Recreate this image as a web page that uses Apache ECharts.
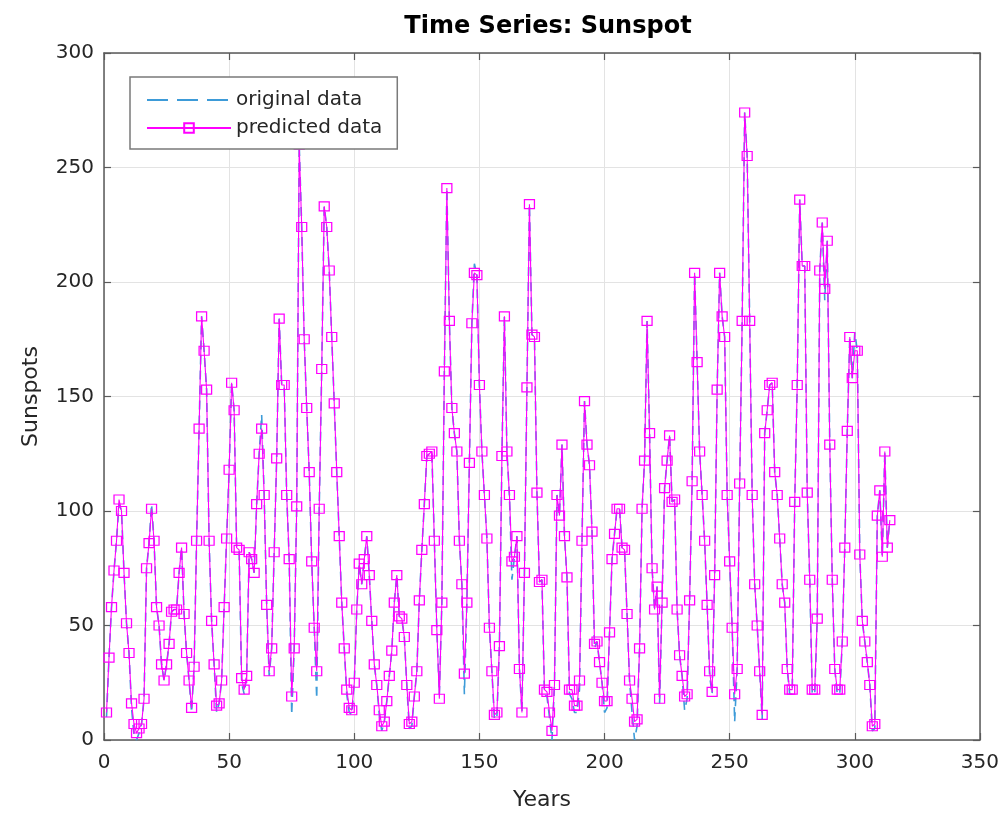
<!DOCTYPE html>
<html>
<head>
<meta charset="utf-8">
<script src="https://cdn.jsdelivr.net/npm/echarts@6/dist/echarts.min.js"></script>
<style>
html,body{margin:0;padding:0;background:#fff;}
#chart{width:1002px;height:818px;}
</style>
</head>
<body>
<div id="chart"></div>
<script>
// Predicted values (magenta, square markers), one per year index starting at 1
const predicted = [
12,36,58,74,87,105,100,73,51,38,16,7,3,5,7,18,75,86,101,87,
58,50,33,26,33,42,56,57,57,73,84,55,38,26,14,32,87,136,185,170,
153,87,52,33,15,16,26,58,88,118,156,144,84,83,27,22,28,82,79,73,
103,125,136,107,59,30,40,82,123,184,155,155,107,79,19,40,102,260,224,175,
145,117,78,49,30,101,162,233,224,205,176,147,117,89,60,40,22,14,13,25,
57,77,68,79,89,72,52,33,24,13,6,8,17,28,39,60,72,54,53,45,
24,7,8,19,30,61,83,103,124,125,126,87,48,18,60,161,241,183,145,134,
126,87,68,29,60,121,182,204,203,155,126,107,88,49,30,11,12,41,124,185,
126,107,78,80,89,31,12,73,154,234,177,176,108,69,70,22,21,12,4,24,
107,98,129,89,71,22,22,15,15,26,87,148,129,120,91,42,43,34,25,17,
17,47,79,90,101,101,84,83,55,26,18,8,9,40,101,122,183,134,75,57,
67,18,60,110,122,133,104,105,57,37,28,19,20,61,113,204,165,126,107,87,
59,30,21,72,153,204,185,176,107,78,49,20,31,112,183,274,255,183,107,68,
50,30,11,134,144,155,156,117,107,88,68,60,31,22,22,104,155,236,207,207,
108,70,22,22,53,205,226,197,218,129,70,31,22,22,43,84,135,176,158,170,
170,81,52,43,34,24,6,7,98,109,80,126,84,96
];
// Original values (blue dashed); mostly hidden under the predicted line
const original = [
10,36,58,74,87,103,100,73,51,38,14,2,0,3,7,18,75,86,103,87,
58,50,33,26,33,42,56,57,57,73,84,55,38,26,12,32,87,136,185,170,
153,87,52,33,12,16,26,58,88,118,156,144,84,83,25,20,28,82,79,73,
103,125,142,107,59,28,40,82,123,184,155,155,107,79,11,40,102,260,224,175,
145,117,78,49,18,101,162,233,224,205,176,147,117,89,60,40,20,12,11,25,
57,77,68,79,89,72,52,33,24,11,4,8,17,28,39,60,72,54,53,45,
24,5,6,19,30,61,83,103,124,125,126,87,48,20,60,161,241,183,145,134,
126,87,68,20,60,121,182,208,203,155,126,107,88,49,30,9,10,41,124,185,
126,107,70,80,89,31,12,73,154,234,177,176,108,69,70,20,19,10,0,24,
107,98,129,89,71,20,18,12,12,22,87,148,129,120,91,40,43,34,25,12,
14,47,79,90,101,101,84,83,55,26,12,0,6,40,101,122,183,134,75,57,
67,16,60,110,122,133,104,105,57,37,28,13,18,61,113,204,165,126,107,87,
59,28,20,72,153,204,185,176,107,78,49,8,31,112,183,274,255,183,107,68,
50,30,9,134,144,155,156,117,107,88,68,60,31,20,20,104,155,236,207,207,
108,70,20,20,53,205,226,192,218,129,70,31,20,20,43,84,135,176,158,178,
170,81,52,43,34,24,4,5,98,109,80,126,84,96
];
const xTicks = [0,50,100,150,200,250,300,350];
const yTicks = [0,50,100,150,200,250,300];

const toPairs = arr => arr.map((v, i) => [i + 1, v]);

const axisColor = '#5a5a5a';
const labelColor = '#262626';
const font = 'DejaVu Sans, Liberation Sans, Arial, sans-serif';

const tickStyle = {show: true, inside: true, length: 7, lineStyle: {color: axisColor, width: 1.2}};
const lineStyleAxis = {show: true, onZero: false, lineStyle: {color: axisColor, width: 1.5}};

const chart = echarts.init(document.getElementById('chart'), null, {renderer: 'canvas'});
chart.setOption({
  backgroundColor: '#ffffff',
  animation: false,
  textStyle: {fontFamily: font},
  title: {
    text: 'Time Series: Sunspot',
    left: 543, top: 10, textAlign: 'center',
    textStyle: {fontSize: 24, fontWeight: 'bold', color: '#000', fontFamily: font}
  },
  legend: {
    left: 130, top: 77,
    orient: 'vertical',
    backgroundColor: '#ffffff',
    borderColor: '#7a7a7a', borderWidth: 1.5,
    padding: [13, 15, 11, 16],
    itemWidth: 84, itemHeight: 12, itemGap: 8,
    textStyle: {fontSize: 20, color: labelColor, fontFamily: font},
    data: [
      {name: 'original data', itemStyle: {opacity: 0}, lineStyle: {type: [21, 9], width: 2}},
      {name: 'predicted data'}
    ]
  },
  grid: {left: 104, top: 53, width: 879, height: 687, show: false},
  xAxis: [{
    type: 'value', min: 0, max: 350, interval: 50,
    name: 'Years', nameLocation: 'middle', nameGap: 49,
    nameTextStyle: {fontSize: 22, color: labelColor, fontFamily: font},
    axisLine: lineStyleAxis,
    axisTick: tickStyle,
    axisLabel: {fontSize: 20, color: labelColor, margin: 13, fontFamily: font},
    splitLine: {show: true, lineStyle: {color: '#e3e3e3', width: 1}}
  }, {
    type: 'value', min: 0, max: 350, interval: 50, position: 'top',
    axisLine: lineStyleAxis,
    axisTick: tickStyle,
    axisLabel: {show: false}, splitLine: {show: false}
  }],
  yAxis: [{
    type: 'value', min: 0, max: 300, interval: 50,
    name: 'Sunspots', nameLocation: 'middle', nameGap: 62,
    nameTextStyle: {fontSize: 22, color: labelColor, fontFamily: font},
    axisLine: lineStyleAxis,
    axisTick: tickStyle,
    axisLabel: {fontSize: 20, color: labelColor, margin: 10, fontFamily: font},
    splitLine: {show: true, lineStyle: {color: '#e3e3e3', width: 1}}
  }, {
    type: 'value', min: 0, max: 300, interval: 50, position: 'right',
    axisLine: lineStyleAxis,
    axisTick: tickStyle,
    axisLabel: {show: false}, splitLine: {show: false}
  }],
  series: [{
    name: 'original data',
    type: 'line',
    data: toPairs(original),
    showSymbol: false, symbol: 'none',
    color: '#3d9bd8',
    lineStyle: {color: '#3d9bd8', width: 1.6, type: [9, 6]},
    z: 2
  }, {
    name: 'predicted data',
    type: 'line',
    data: toPairs(predicted),
    symbol: 'rect', symbolSize: [10, 9], showSymbol: true, showAllSymbol: true,
    color: '#ff00ff',
    itemStyle: {color: 'rgba(255,255,255,0)', borderColor: '#ff00ff', borderWidth: 1.2},
    lineStyle: {color: '#ff00ff', width: 1.1},
    z: 3
  }]
});
</script>
</body>
</html>
